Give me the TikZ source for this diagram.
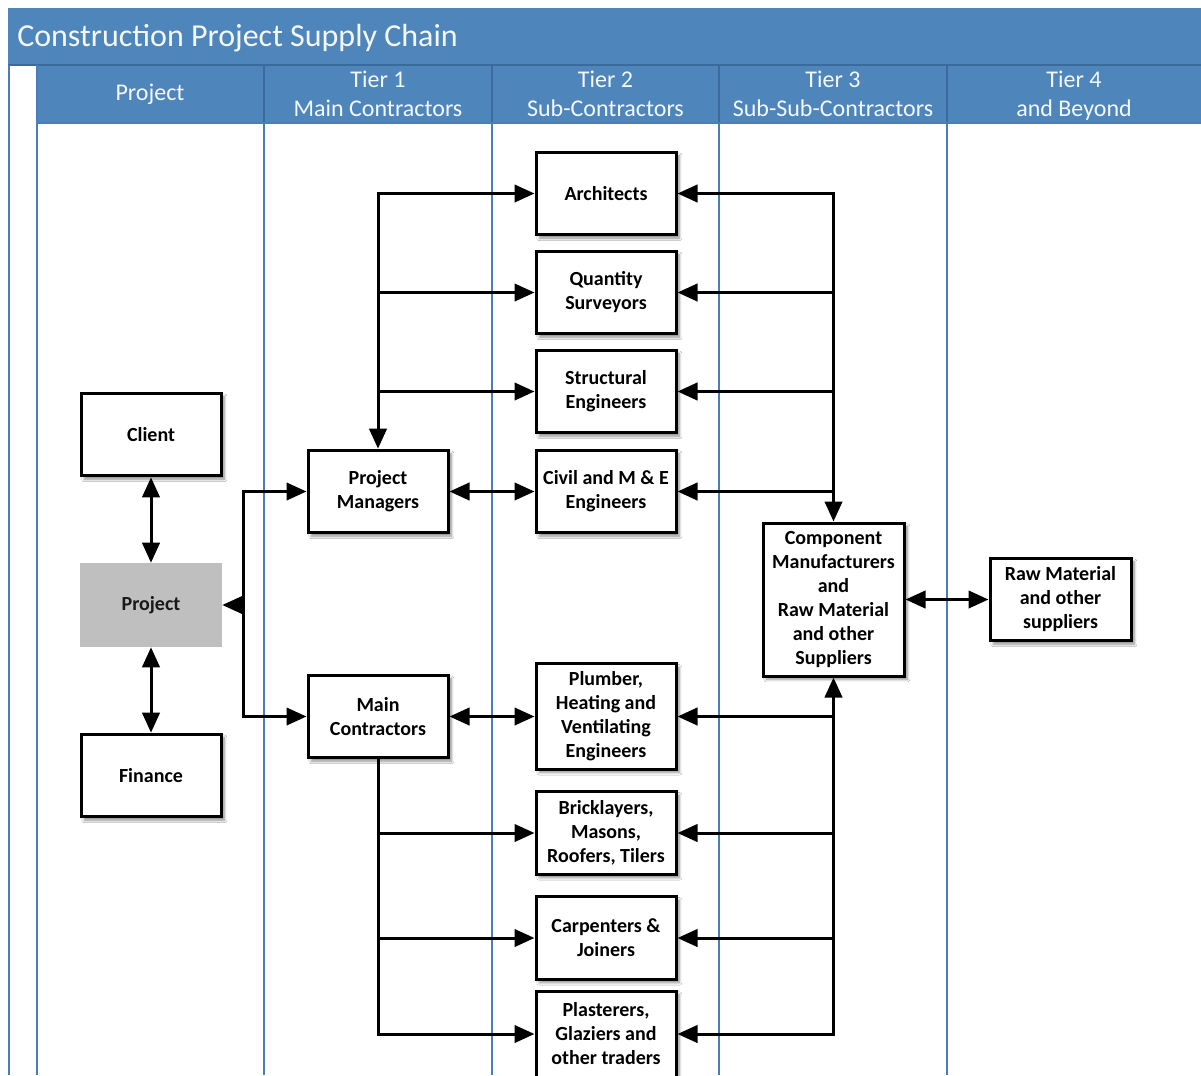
\documentclass[tikz,border=0pt]{standalone}
\usepackage{fontspec}
\setmainfont{Carlito}
\usetikzlibrary{arrows.meta,shadows.blur}
\definecolor{barblue}{HTML}{4E86BC}
\definecolor{edgeblue}{HTML}{3A6B9C}
\definecolor{lane}{HTML}{4A7EBB}
\definecolor{hubgray}{HTML}{BFBFBF}
\definecolor{hdrtext}{HTML}{F4F7FB}

\begin{document}
\begin{tikzpicture}[x=0.75pt,y=-0.75pt,
  >={Triangle[length=15pt,width=13pt]},
  box/.style={draw, line width=2.25pt, fill=white, align=center, inner sep=0pt,
    minimum width=105pt, minimum height=62pt,
    font=\bfseries\fontsize{15}{18}\selectfont,
    blur shadow={shadow xshift=2.5pt, shadow yshift=-2.5pt,
      shadow blur steps=6, shadow opacity=45}},
  hub/.style={fill=hubgray, align=center, inner sep=0pt,
    minimum width=106.5pt, minimum height=63pt,
    font=\bfseries\fontsize{15}{18}\selectfont, text=black!90},
  conn/.style={line width=2.25pt},
  hdr/.style={align=center, text=hdrtext, font=\fontsize{18}{21.75}\selectfont},
  laneline/.style={draw=lane, line width=1.1pt},
  divider/.style={draw=edgeblue, line width=1.4pt}]

\clip (0,0) rectangle (1201,1075);
\fill[white] (0,0) rectangle (1201,1075);

% title bar and column headings
\fill[barblue] (8,8) rectangle (1201,65);
\fill[barblue] (37,65) rectangle (1201,123);
\draw[divider] (8,65) -- (1201,65);
\node[anchor=base west, inner sep=0pt, text=hdrtext, font=\fontsize{24}{28}\selectfont]
  (title) at (17,46) {Construction Project Supply Chain};

% swim-lane borders
\draw[laneline] (9,65) -- (9,1075);
\draw[laneline] (37,65) -- (37,1075);
\foreach \x in {264,492,719,947} {
  \draw[divider] (\x,65) -- (\x,123);
  \draw[laneline] (\x,123) -- (\x,1075);
}
\draw[laneline] (37,123) -- (1201,123);

\node[hdr] (hproject) at (150,94) {Project};
\node[hdr] (htier1) at (378,94) {Tier 1\\Main Contractors};
\node[hdr] (htier2) at (605.5,94) {Tier 2\\Sub-Contractors};
\node[hdr] (htier3) at (833,94) {Tier 3\\Sub-Sub-Contractors};
\node[hdr] (htier4) at (1074,96) {Tier 4\\and Beyond};

% project column
\node[box] (client) at (151,434.5) {Client};
\node[hub] (proj) at (151,605) {Project};
\node[box] (fin) at (151,775.5) {Finance};

% tier 1
\node[box] (pm) at (378,491.5) {Project\\Managers};
\node[box] (mc) at (378,716.5) {Main\\Contractors};

% tier 2
\node[box] (arch) at (606,193.5) {Architects};
\node[box] (qs) at (606,292.5) {Quantity\\Surveyors};
\node[box] (se) at (606,391.5) {Structural\\Engineers};
\node[box] (civ) at (606,491.5) {Civil and M \& E\\Engineers};
\node[box, minimum height=79pt] (plum) at (606,716.5) {Plumber,\\Heating and\\Ventilating\\Engineers};
\node[box] (brick) at (606,833) {Bricklayers,\\Masons,\\Roofers, Tilers};
\node[box] (carp) at (606,938) {Carpenters \&\\Joiners};
\node[box, minimum height=64.5pt] (plast) at (606,1034) {Plasterers,\\Glaziers and\\other traders};

% tier 3 and 4
\node[box, minimum width=105.75pt, minimum height=114.75pt] (comp) at (833.5,599.5)
  {Component\\Manufacturers\\and\\Raw Material\\and other\\Suppliers};
\node[box, minimum width=105.75pt] (raw) at (1060.5,599.5) {Raw Material\\and other\\suppliers};

% connectors: project column
\draw[conn,<->] (client) -- (proj);
\draw[conn,<->] (proj) -- (fin);
\coordinate (split) at (243,605);
\draw[conn,->] (split) -- (proj.east);
\draw[conn,<->] (pm.west) -| (split) |- (mc.west);

% tier 1 to tier 2
\draw[conn,<->] (pm) -- (civ);
\draw[conn,<->] (mc) -- (plum);
\draw[conn,<->] (arch.west) -| (pm.north);
\draw[conn,->] (pm.north |- qs.west) -- (qs.west);
\draw[conn,->] (pm.north |- se.west) -- (se.west);
\draw[conn,->] (mc.south) |- (plast.west);
\draw[conn,->] (mc.south |- brick.west) -- (brick.west);
\draw[conn,->] (mc.south |- carp.west) -- (carp.west);

% tier 3 to tier 2
\draw[conn,<->] (arch.east) -| (comp.north);
\draw[conn,->] (comp.north |- qs.east) -- (qs.east);
\draw[conn,->] (comp.north |- se.east) -- (se.east);
\draw[conn,->] (comp.north |- civ.east) -- (civ.east);
\draw[conn,<->] (plast.east) -| (comp.south);
\draw[conn,->] (comp.south |- plum.east) -- (plum.east);
\draw[conn,->] (comp.south |- brick.east) -- (brick.east);
\draw[conn,->] (comp.south |- carp.east) -- (carp.east);

% tier 3 to tier 4
\draw[conn,<->] (comp) -- (raw);
\end{tikzpicture}
\end{document}
